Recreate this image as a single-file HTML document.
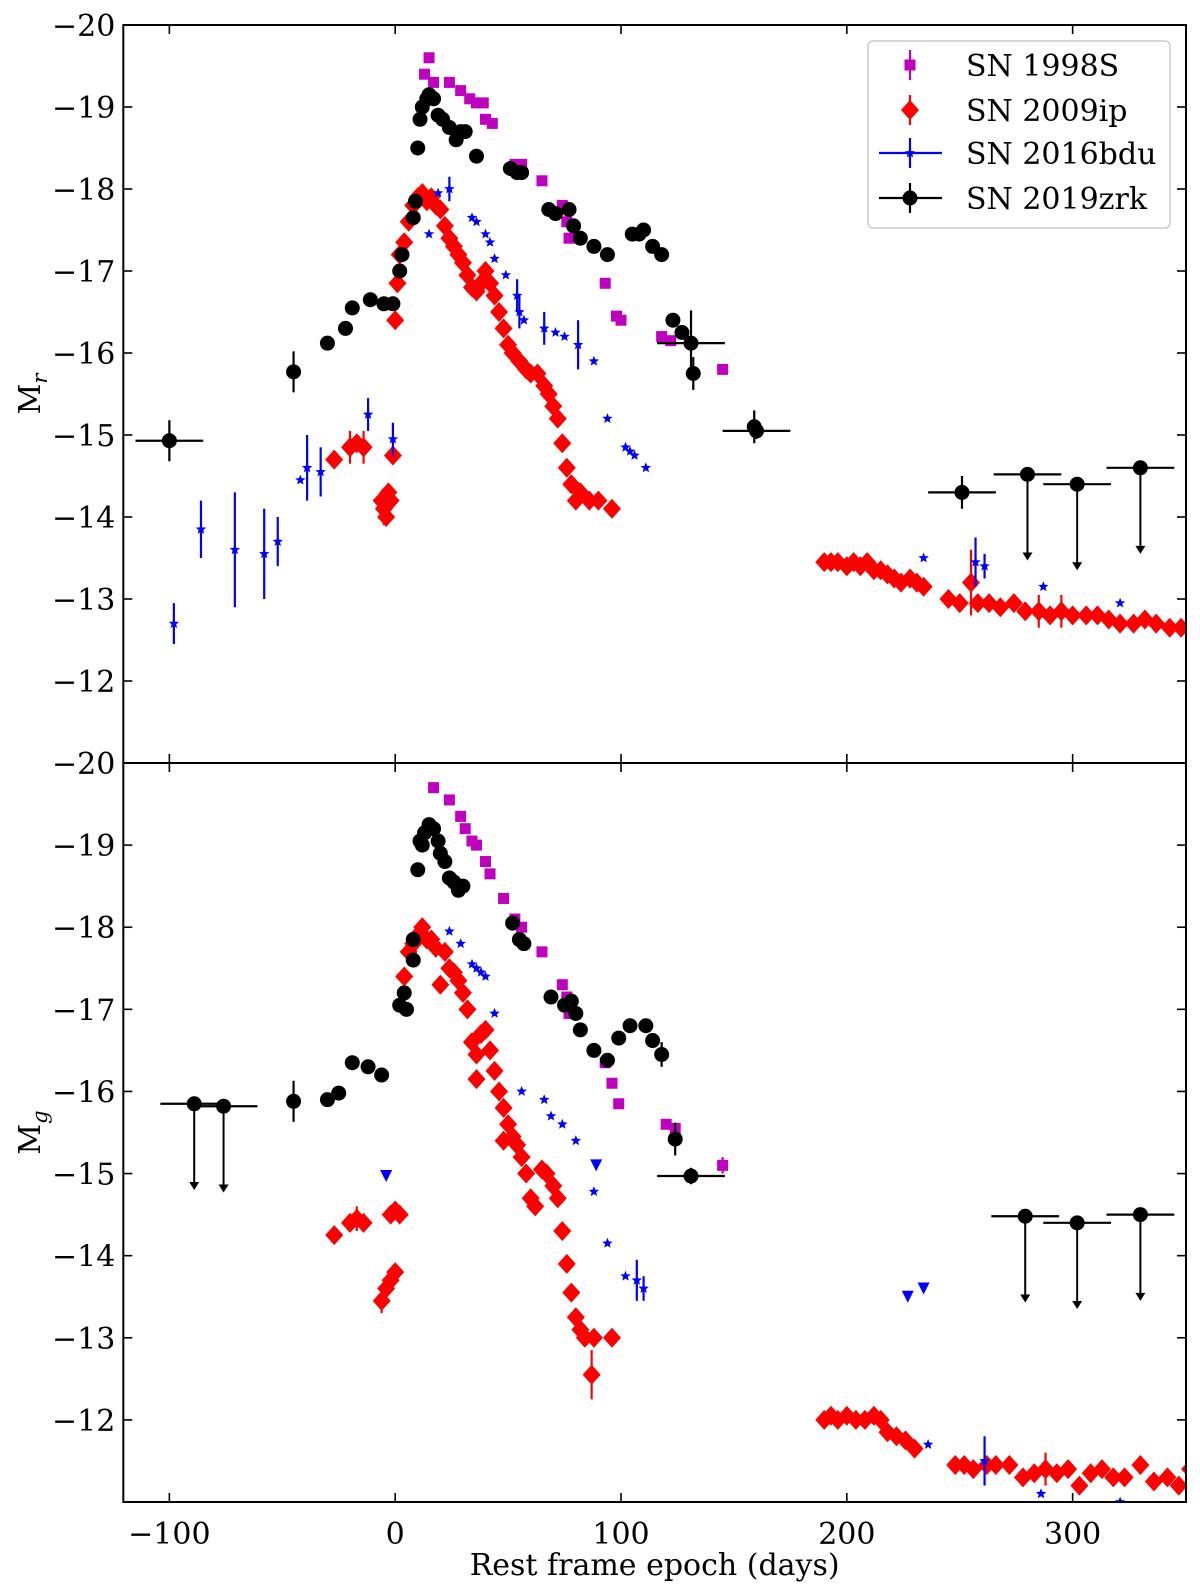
<!DOCTYPE html>
<html><head><meta charset="utf-8"><style>
html,body{margin:0;padding:0;background:#fff}
svg text{font-family:"DejaVu Serif","Liberation Serif",serif;fill:#000}
</style></head><body>
<svg id="c" width="1200" height="1589" viewBox="0 0 1200 1589" xmlns="http://www.w3.org/2000/svg"></svg>
<script>
// ---------- data: [epoch, mag, yerr, xerr] ----------
const r98S=[[13,-19.4],[15,-19.6],[17,-19.3],[24,-19.3],[29,-19.2],[33,-19.1],[36,-19.05],[39,-19.05],[40,-18.85],[43,-18.8],[53,-18.3],[56,-18.3],[65,-18.1],[74,-17.8],[76,-17.6],[77,-17.4],[93,-16.85],[98,-16.45],[100,-16.4],[118,-16.2],[122,-16.15],[145,-15.8]];
const r19zrk=[[-100,-14.93,0.25,15],[-45,-15.77,0.25],[-30,-16.12],[-22,-16.3],[-19,-16.55],[-11,-16.65],[-5,-16.6],[-1,-16.6],[2,-17.0],[3,-17.2],[8,-17.65],[9,-17.85],[10,-18.5],[11,-18.85],[12,-19.0],[14,-19.1],[15,-19.15],[17,-19.1],[19,-18.9],[21,-18.85],[24,-18.75],[27,-18.6],[29,-18.7],[31,-18.7],[36,-18.4],[51,-18.25],[54,-18.2],[56,-18.2],[68,-17.75],[71,-17.7],[77,-17.75],[79,-17.55],[82,-17.4],[88,-17.3],[94,-17.2],[105,-17.45],[108,-17.45],[110,-17.5],[114,-17.3],[118,-17.2],[123,-16.4],[127,-16.25],[131,-16.12,0.4,15],[132,-15.75,0.2],[159,-15.1,0.2],[160,-15.05,0.1,15],[251,-14.3,0.2,15]];
const r19zrkUL=[[280,-14.52,15],[302,-14.4,15],[330,-14.6,15]];
const r09ip=[[-27,-14.7],[-20,-14.85,0.2],[-17,-14.9],[-14,-14.85,0.2],[-6,-14.2],[-5,-14.1,0.2],[-4,-14.0],[-3,-14.3],[-2,-14.2],[-1,-14.75],[0,-16.4],[1,-16.85],[2,-17.2],[4,-17.35],[6,-17.6],[8,-17.8],[10,-17.9],[12,-17.95],[14,-17.85],[16,-17.9],[18,-17.8],[20,-17.75],[22,-17.55],[24,-17.4],[26,-17.3],[28,-17.2],[30,-17.1],[32,-16.95],[34,-16.8],[36,-16.75],[38,-16.85],[40,-17.0],[42,-16.85],[44,-16.7],[46,-16.5],[48,-16.3],[50,-16.1],[52,-16.0],[55,-15.9],[58,-15.8],[60,-15.75],[63,-15.75],[66,-15.6],[68,-15.5],[70,-15.35],[72,-15.2],[74,-14.9],[76,-14.6],[78,-14.4],[80,-14.2],[82,-14.3],[86,-14.2],[90,-14.2],[96,-14.1],[190,-13.45],[193,-13.45],[196,-13.45],[200,-13.4],[203,-13.45],[206,-13.4],[209,-13.45],[212,-13.35],[215,-13.35],[218,-13.3],[221,-13.25],[224,-13.2],[228,-13.25],[231,-13.2],[234,-13.15],[245,-13.0],[250,-12.95],[255,-13.2,0.4],[258,-12.95],[263,-12.95],[268,-12.9],[274,-12.95],[279,-12.85],[285,-12.85,0.2],[290,-12.8],[295,-12.85,0.2],[300,-12.8],[306,-12.8],[311,-12.8],[316,-12.75],[321,-12.7],[327,-12.7],[332,-12.75],[337,-12.7],[343,-12.65],[348,-12.65]];
const r16bdu=[[-98,-12.7,0.25],[-86,-13.85,0.35],[-71,-13.6,0.7],[-58,-13.55,0.55],[-52,-13.7,0.3],[-42,-14.45],[-39,-14.6,0.4],[-33,-14.55,0.3],[-12,-15.25,0.2],[-1,-14.95,0.2],[15,-17.45],[19,-17.95],[24,-18.0,0.15],[34,-17.65],[36,-17.6],[40,-17.45],[42,-17.35],[44,-17.15],[49,-16.95],[54,-16.7,0.2],[55,-16.5,0.2],[57,-16.4],[66,-16.3,0.2],[71,-16.25],[75,-16.2],[81,-16.1,0.3],[88,-15.9],[94,-15.2],[102,-14.85],[104,-14.8],[106,-14.75],[111,-14.6],[234,-13.5],[257,-13.45,0.3],[261,-13.4,0.15],[287,-13.15],[321,-12.95]];

const g98S=[[17,-19.7],[24,-19.55],[29,-19.35],[31,-19.2],[34,-19.05],[36,-19.0],[40,-18.8],[42,-18.65],[48,-18.35],[53,-18.1],[56,-18.0],[65,-17.7],[74,-17.3],[76,-17.15],[77,-16.95],[93,-16.35],[96,-16.1],[99,-15.85],[120,-15.6],[124,-15.55],[145,-15.1,0.1]];
const g19zrk=[[-45,-15.88,0.25],[-30,-15.9],[-25,-15.98],[-19,-16.35],[-12,-16.3],[-6,-16.2],[2,-17.05],[4,-17.2],[5,-17.0],[8,-17.6],[8,-17.85],[10,-18.7],[11,-19.05],[12,-19.0],[13,-19.15],[15,-19.25],[17,-19.2],[19,-19.05],[20,-18.9],[22,-18.8],[24,-18.6],[26,-18.55],[28,-18.45],[30,-18.5],[52,-18.05],[55,-17.85],[57,-17.8],[69,-17.15],[75,-17.05],[78,-17.1],[80,-16.95],[82,-16.75],[88,-16.5],[94,-16.38],[99,-16.65],[104,-16.8],[111,-16.8],[114,-16.62],[118,-16.45,0.15],[124,-15.42,0.2],[131,-14.97,0.1,15]];
const g19zrkUL=[[-89,-15.85,15],[-76,-15.82,15],[279,-14.48,15],[302,-14.4,15],[330,-14.5,15]];
const g09ip=[[-27,-14.25],[-20,-14.4],[-17,-14.45,0.15],[-14,-14.4],[-6,-13.45,0.15],[-4,-13.6],[-2,-13.7],[0,-13.8],[-2,-14.5],[0,-14.55],[2,-14.5],[4,-17.4],[6,-17.7],[8,-17.8],[10,-17.9],[12,-18.0],[14,-17.85],[16,-17.85],[18,-17.75],[20,-17.3],[22,-17.7],[24,-17.5],[26,-17.45],[28,-17.35],[30,-17.2],[32,-17.0],[34,-16.6],[36,-16.45],[38,-16.7],[40,-16.75],[42,-16.5],[36,-16.15],[44,-16.25],[46,-16.0],[48,-15.8],[50,-15.6],[52,-15.45],[48,-15.4],[54,-15.35],[56,-15.2],[58,-15.0],[60,-14.7],[62,-14.6],[65,-15.05],[67,-15.0],[70,-14.85],[72,-14.7],[74,-14.3],[76,-13.9],[78,-13.55],[80,-13.25],[82,-13.1],[84,-13.0],[88,-13.0],[96,-13.0],[87,-12.55,0.3],[190,-12.0],[193,-12.05],[196,-12.0],[200,-12.05],[204,-12.0],[208,-12.0],[212,-12.05],[215,-12.0],[218,-11.85],[222,-11.8],[226,-11.75],[230,-11.65],[248,-11.45],[252,-11.45],[256,-11.4],[262,-11.45],[266,-11.45],[272,-11.45],[278,-11.3],[283,-11.35],[288,-11.4,0.2],[293,-11.35],[298,-11.4],[303,-11.2],[308,-11.35],[313,-11.4],[318,-11.3],[323,-11.3],[330,-11.45],[336,-11.25],[342,-11.3],[347,-11.2],[352,-11.4]];
const g16bdu=[[24,-17.95],[29,-17.8],[34,-17.55],[36,-17.5],[38,-17.45],[40,-17.4],[44,-16.95],[56,-16.0],[66,-15.9],[69,-15.7],[74,-15.6],[80,-15.4],[88,-14.78],[94,-14.15],[102,-13.75],[107,-13.7,0.25],[110,-13.6,0.15],[236,-11.7],[261,-11.5,0.3],[286,-11.1],[321,-11.0]];
const g16bduUL=[[-4,-14.97],[89,-15.1],[227,-13.5],[234,-13.6]];

const xTicks=[-100,0,100,200,300];
const yTicks=[-20,-19,-18,-17,-16,-15,-14,-13,-12];
const legendLabels=["SN 1998S","SN 2009ip","SN 2016bdu","SN 2019zrk"];

// ---------- layout ----------
const NS="http://www.w3.org/2000/svg";
const svg=document.getElementById('c');
const L=123.3,R=1186,X0=-120.4,X1=350.2;
const panels=[{top:25,bot:763},{top:763,bot:1502}];
const xs=v=>L+(v-X0)/(X1-X0)*(R-L);
function el(tag,attrs,parent){const e=document.createElementNS(NS,tag);for(const k in attrs)e.setAttribute(k,attrs[k]);(parent||svg).appendChild(e);return e;}
panels.forEach((p,i)=>{
  p.ys=v=>p.top+(v-(-20))/9*(p.bot-p.top);
  const d=el('clipPath',{id:'cp'+i});
  el('rect',{x:L,y:p.top,width:R-L,height:p.bot-p.top},d);
});
const COL={m:'#bf00bf',r:'#ff0000',b:'#0000ff',k:'#000000'};
function marker(g,shape,cx,cy,c){
  let e;
  if(shape==='sq')e=el('rect',{x:cx-5.5,y:cy-5.5,width:11,height:11,fill:c},g);
  else if(shape==='D')e=el('polygon',{points:`${cx},${cy-10} ${cx+9},${cy} ${cx},${cy+10} ${cx-9},${cy}`,fill:c},g);
  else if(shape==='o')e=el('circle',{cx,cy,r:7.5,fill:c},g);
  else if(shape==='v')e=el('polygon',{points:`${cx-6},${cy-6} ${cx+6},${cy-6} ${cx},${cy+6}`,fill:c},g);
  else{let pts=[];for(let k=0;k<10;k++){const a=-Math.PI/2+k*Math.PI/5,rr=k%2?2.4:5.5;pts.push((cx+rr*Math.cos(a)).toFixed(1)+','+(cy+rr*Math.sin(a)).toFixed(1));}
    e=el('polygon',{points:pts.join(' '),fill:c},g);}
  
  
}
function series(pi,data,shape,c,name){
  const p=panels[pi];
  const g=el('g',{'clip-path':`url(#cp${pi})`});
  
  
  data.forEach(d=>{
    const cx=xs(d[0]),cy=p.ys(d[1]);
    if(d[2])el('line',{x1:cx,x2:cx,y1:p.ys(d[1]-d[2]),y2:p.ys(d[1]+d[2]),stroke:c,'stroke-width':2.2},g);
    if(d[3])el('line',{x1:xs(d[0]-d[3]),x2:xs(d[0]+d[3]),y1:cy,y2:cy,stroke:c,'stroke-width':2.2},g);
    marker(g,shape,cx,cy,c);
  });
}
function limits(pi,data,name){
  const p=panels[pi];
  const g=el('g',{});
  
  
  data.forEach(d=>{
    const cx=xs(d[0]),cy=p.ys(d[1]),ey=p.ys(d[1]+1.05);
    el('line',{x1:xs(d[0]-d[2]),x2:xs(d[0]+d[2]),y1:cy,y2:cy,stroke:'#000','stroke-width':2.2},g);
    el('line',{x1:cx,x2:cx,y1:cy,y2:ey-6,stroke:'#000','stroke-width':2},g);
    el('polygon',{points:`${cx-5},${ey-8} ${cx+5},${ey-8} ${cx},${ey}`,fill:'#000'},g);
    marker(g,'o',cx,cy,'#000');
  });
}
series(0,r98S,'sq',COL.m,'sn1998s-r');
series(0,r09ip,'D',COL.r,'sn2009ip-r');
series(0,r16bdu,'*',COL.b,'sn2016bdu-r');
series(0,r19zrk,'o',COL.k,'sn2019zrk-r');
limits(0,r19zrkUL,'sn2019zrk-r-upper-limits');
series(1,g98S,'sq',COL.m,'sn1998s-g');
series(1,g09ip,'D',COL.r,'sn2009ip-g');
series(1,g16bdu,'*',COL.b,'sn2016bdu-g');
series(1,g16bduUL,'v',COL.b,'sn2016bdu-g-upper-limits');
series(1,g19zrk,'o',COL.k,'sn2019zrk-g');
limits(1,g19zrkUL,'sn2019zrk-g-upper-limits');

panels.forEach((p,i)=>{
  const ax=el('g',{});
  
  
  el('rect',{x:L,y:p.top,width:R-L,height:p.bot-p.top,fill:'none',stroke:'#000','stroke-width':2},ax);
  xTicks.forEach(t=>{const x=xs(t);
    el('line',{x1:x,x2:x,y1:p.bot,y2:p.bot-9,stroke:'#000','stroke-width':1.6},ax);
    el('line',{x1:x,x2:x,y1:p.top,y2:p.top+9,stroke:'#000','stroke-width':1.6},ax);
    if(i===1){const tx=el('text',{x:x,y:p.bot+42,'font-size':30,'text-anchor':'middle'},ax);tx.textContent=String(t).replace('-','\u2212');
      }
  });
  yTicks.forEach(t=>{const y=p.ys(t);
    el('line',{x1:L,x2:L+9,y1:y,y2:y,stroke:'#000','stroke-width':1.6},ax);
    el('line',{x1:R,x2:R-9,y1:y,y2:y,stroke:'#000','stroke-width':1.6},ax);
    const tx=el('text',{x:L-8,y:y+11,'font-size':30,'text-anchor':'end'},ax);tx.textContent=String(t).replace('-','\u2212');
    
  });
  const yl=el('text',{x:0,y:0,'font-size':30,'text-anchor':'middle',transform:`translate(40,${(p.top+p.bot)/2}) rotate(-90)`},ax);
  yl.innerHTML=i?'M<tspan font-size="21" dy="7" font-style="italic">g</tspan>':'M<tspan font-size="21" dy="7" font-style="italic">r</tspan>';
  
});
const xl=el('text',{x:(L+R)/2,y:1575,'font-size':30,'text-anchor':'middle'});
xl.textContent='Rest frame epoch (days)';


const lg=el('g',{});

el('rect',{x:868,y:41,width:302,height:187,rx:5,fill:'#fff',stroke:'#ccc','stroke-width':1.5},lg);
const lshapes=['sq','D','*','o'],lcols=[COL.m,COL.r,COL.b,COL.k],lys=[65,110,153,198];
legendLabels.forEach((t,k)=>{
  const y=lys[k];
  const e=el('g',{},lg);
  
  el('line',{x1:910,x2:910,y1:y-15,y2:y+15,stroke:lcols[k],'stroke-width':2.2},e);
  if(k>=2)el('line',{x1:879,x2:942,y1:y,y2:y,stroke:lcols[k],'stroke-width':2.2},e);
  marker(e,lshapes[k],910,y,lcols[k]);
  const tx=el('text',{x:966,y:y+11,'font-size':30},e);tx.textContent=t;
});
</script>
</body></html>
